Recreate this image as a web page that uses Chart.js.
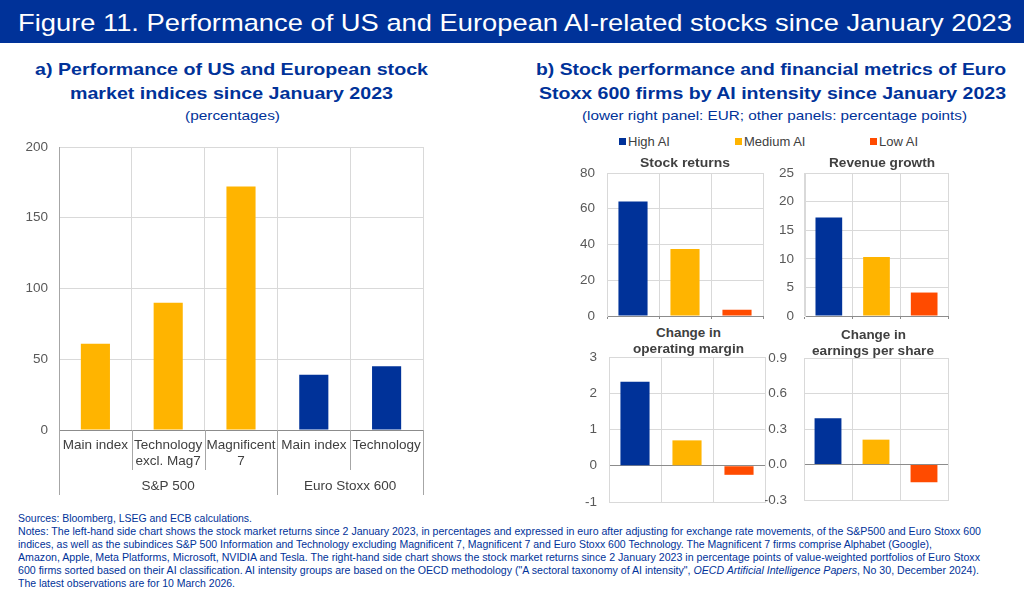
<!DOCTYPE html>
<html>
<head>
<meta charset="utf-8">
<script src="https://cdn.jsdelivr.net/npm/chart.js@4.4.1/dist/chart.umd.min.js"></script>
<style>
  html, body { margin: 0; padding: 0; background: #fff; }
  body { width: 1024px; height: 592px; position: relative; overflow: hidden;
         font-family: "Liberation Sans", Arial, sans-serif; }
  .band { position: absolute; left: 0; top: 0; width: 1024px; height: 43px; background: #003299; }
  .t { position: absolute; white-space: nowrap; line-height: 1; transform-origin: 0 50%; }
  .sub { color: #003299; font-weight: bold; font-size: 16.5px; }
  .unit { color: #003299; font-size: 13px; }
  .ptitle { color: #404040; font-weight: bold; font-size: 13.5px; z-index: 5; }
  .note { color: #003299; font-size: 10.5px; }
  .leg { position: absolute; font-size: 13px; color: #404040; line-height: 1; white-space: nowrap; }
  .leg i { display: inline-block; width: 7px; height: 7px; margin-right: 2px; vertical-align: 1px; }
  canvas { position: absolute; }
</style>
</head>
<body>
<div class="band"></div>
<div class="t" style="color:#fff;font-size:24.5px" data-x="18" data-y="23" data-w="994">Figure 11. Performance of US and European AI-related stocks since January 2023</div>

<div class="t sub" data-x="35" data-y="69" data-w="393">a) Performance of US and European stock</div>
<div class="t sub" data-x="70" data-y="93" data-w="323">market indices since January 2023</div>
<div class="t unit" data-x="185" data-y="115" data-w="95">(percentages)</div>

<div class="t sub" data-x="536" data-y="69" data-w="470">b) Stock performance and financial metrics of Euro</div>
<div class="t sub" data-x="539" data-y="93" data-w="467">Stoxx 600 firms by AI intensity since January 2023</div>
<div class="t unit" data-x="582" data-y="115" data-w="385">(lower right panel: EUR; other panels: percentage points)</div>

<div id="legend"></div>

<div class="t ptitle" data-x="640" data-y="163" data-w="90">Stock returns</div>
<div class="t ptitle" data-x="829" data-y="163" data-w="106">Revenue growth</div>
<div class="t ptitle" data-x="656" data-y="333" data-w="65">Change in</div>
<div class="t ptitle" data-x="633" data-y="349" data-w="111">operating margin</div>
<div class="t ptitle" data-x="841" data-y="335" data-w="65">Change in</div>
<div class="t ptitle" data-x="812" data-y="351" data-w="122">earnings per share</div>

<canvas id="left" width="440" height="370" style="left:0;top:130px;width:440px;height:370px"></canvas>
<canvas id="p1" width="198" height="157" style="left:570px;top:165px;width:198px;height:157px"></canvas>
<canvas id="p2" width="188" height="157" style="left:765px;top:165px;width:188px;height:157px"></canvas>
<canvas id="p3" width="200" height="159" style="left:570px;top:349px;width:200px;height:159px"></canvas>
<canvas id="p4" width="188" height="156" style="left:765px;top:350px;width:188px;height:156px"></canvas>

<div class="t note" data-x="18" data-y="518" data-w="234">Sources: Bloomberg, LSEG and ECB calculations.</div>
<div class="t note" data-x="18" data-y="531" data-w="963">Notes: The left-hand side chart shows the stock market returns since 2 January 2023, in percentages and expressed in euro after adjusting for exchange rate movements, of the S&amp;P500 and Euro Stoxx 600</div>
<div class="t note" data-x="18" data-y="544" data-w="914">indices, as well as the subindices S&amp;P 500 Information and Technology excluding Magnificent 7, Magnificent 7 and Euro Stoxx 600 Technology. The Magnificent 7 firms comprise Alphabet (Google),</div>
<div class="t note" data-x="18" data-y="557" data-w="962">Amazon, Apple, Meta Platforms, Microsoft, NVIDIA and Tesla. The right-hand side chart shows the stock market returns since 2 January 2023 in percentage points of value-weighted portfolios of Euro Stoxx</div>
<div class="t note" data-x="18" data-y="570" data-w="961">600 firms sorted based on their AI classification. AI intensity groups are based on the OECD methodology ("A sectoral taxonomy of AI intensity", <i>OECD Artificial Intelligence Papers</i>, No 30, December 2024).</div>
<div class="t note" data-x="18" data-y="583" data-w="217">The latest observations are for 10 March 2026.</div>

<script>
// left panel data
const indexLabels = ['Main index', ['Technology', 'excl. Mag7'], ['Magnificent', '7'], 'Main index', 'Technology'];
const indexGroups = ['S&P 500', 'Euro Stoxx 600'];
const groupSizes  = [3, 2];
const indexReturns = [61, 90, 172, 39, 45];
const leftTicks = [0, 200, 50];

// right panels data
const aiGroups      = ['High AI', 'Medium AI', 'Low AI'];
const stockReturns  = [64, 37.5, 3.5];
const revenueGrowth = [17.2, 10.3, 4.1];
const opMargin      = [2.32, 0.7, -0.25];
const epsChange     = [0.39, 0.21, -0.15];

const BLUE = '#003299', YELLOW = '#FFB400', ORANGE = '#FF4B00';
const GRID = '#d9d9d9', AXIS = '#8c8c8c', TXT = '#404040', TICK = '#595959';
const FONT = '"Liberation Sans", Arial, sans-serif';

// position and squeeze text lines
document.querySelectorAll('.t').forEach(function (el) {
    el.style.left = el.dataset.x + 'px';
    const h = el.getBoundingClientRect().height;
    el.style.top = (el.dataset.y - h / 2) + 'px';
    const w = el.getBoundingClientRect().width;
    el.style.transform = 'scaleX(' + (el.dataset.w / w) + ')';
});

// legend
const legendPos = [[619, 142], [735, 142], [870, 142]];
const aiColors = [BLUE, YELLOW, ORANGE];
aiGroups.forEach(function (name, i) {
    const d = document.createElement('div');
    d.className = 'leg';
    d.innerHTML = '<i style="background:' + aiColors[i] + '"></i>' + name;
    d.style.left = legendPos[i][0] + 'px';
    d.style.top = (legendPos[i][1] - 7) + 'px';
    document.getElementById('legend').appendChild(d);
});

Chart.defaults.font.family = FONT;
Chart.defaults.animation = false;

// fixed y axis width, no extra vertical padding from tick labels
function fixY(width) {
    return function (s) {
        s.width = width;
        s.paddingTop = 0;
        s.paddingBottom = 0;
    };
}

// separators and group labels under the left x axis
const groupAxis = {
    id: 'groupAxis',
    afterDraw: function (chart) {
        const x = chart.scales.x, area = chart.chartArea, ctx = chart.ctx;
        const n = indexLabels.length, step = (area.right - area.left) / n;
        const edges = [0];
        groupSizes.forEach(function (s) { edges.push(edges[edges.length - 1] + s); });
        ctx.save();
        ctx.strokeStyle = '#a6a6a6';
        ctx.lineWidth = 1;
        for (let k = 0; k <= n; k++) {
            const px = Math.round(area.left + k * step) + 0.5;
            ctx.beginPath();
            ctx.moveTo(px, area.bottom);
            ctx.lineTo(px, area.bottom + (edges.indexOf(k) >= 0 ? 65 : 40));
            ctx.stroke();
        }
        ctx.fillStyle = TXT;
        ctx.font = '13.5px ' + FONT;
        ctx.textAlign = 'center';
        ctx.textBaseline = 'middle';
        indexGroups.forEach(function (g, i) {
            const a = x.getPixelForValue(edges[i]), b = x.getPixelForValue(edges[i + 1] - 1);
            ctx.fillText(g, (a + b) / 2, area.bottom + 56);
        });
        ctx.restore();
    }
};

new Chart(document.getElementById('left'), {
    type: 'bar',
    data: {
        labels: indexLabels,
        datasets: [{
            data: indexReturns,
            backgroundColor: indexReturns.map(function (v, i) { return i < groupSizes[0] ? YELLOW : BLUE; }),
            barPercentage: 0.4,
            categoryPercentage: 1
        }]
    },
    options: {
        responsive: false,
        layout: { padding: { top: 17, right: 17, left: 0, bottom: 0 } },
        plugins: { legend: { display: false }, tooltip: { enabled: false } },
        scales: {
            x: {
                afterFit: function (s) { s.height = 70; },
                grid: { color: GRID, drawTicks: false, offset: true },
                border: { color: AXIS },
                ticks: { color: TXT, font: { size: 13.5 }, padding: 7, autoSkip: false, maxRotation: 0 }
            },
            y: {
                min: leftTicks[0], max: leftTicks[1],
                afterFit: fixY(59),
                grid: { color: function (c) { return c.tick && c.tick.value === 0 ? AXIS : GRID; }, drawTicks: false },
                border: { color: '#a6a6a6' },
                ticks: { stepSize: leftTicks[2], color: TICK, font: { size: 13.5 }, padding: 11 }
            }
        }
    },
    plugins: [groupAxis]
});

function panel(id, values, min, max, step, digits, yWidth, pad, bottomAxis) {
    new Chart(document.getElementById(id), {
        type: 'bar',
        data: {
            labels: aiGroups,
            datasets: [{ data: values, backgroundColor: aiColors, barPercentage: 0.56, categoryPercentage: 1 }]
        },
        options: {
            responsive: false,
            layout: { padding: { top: 8, right: 5, left: 0, bottom: 0 } },
            plugins: { legend: { display: false }, tooltip: { enabled: false } },
            scales: {
                x: {
                    afterFit: function (s) { s.height = 6; },
                    grid: { color: GRID, offset: true, drawTicks: bottomAxis, tickLength: 3, tickColor: AXIS },
                    border: { color: bottomAxis ? AXIS : GRID },
                    ticks: { display: false }
                },
                y: {
                    min: min, max: max,
                    afterFit: fixY(yWidth),
                    grid: {
                        color: function (c) { return c.tick && Math.abs(c.tick.value) < 1e-9 ? AXIS : GRID; },
                        drawTicks: false
                    },
                    border: { color: GRID },
                    ticks: {
                        stepSize: step, color: TICK, font: { size: 13.5 }, padding: pad,
                        callback: function (v) { return Number(v).toFixed(digits); }
                    }
                }
            }
        }
    });
}

panel('p1', stockReturns, 0, 80, 20, 0, 37, 12, true);
panel('p2', revenueGrowth, 0, 25, 5, 0, 40, 11, true);
panel('p3', opMargin, -1, 3, 1, 0, 39, 12, false);
panel('p4', epsChange, -0.3, 0.9, 0.3, 1, 39, 17, false);
</script>
</body>
</html>
